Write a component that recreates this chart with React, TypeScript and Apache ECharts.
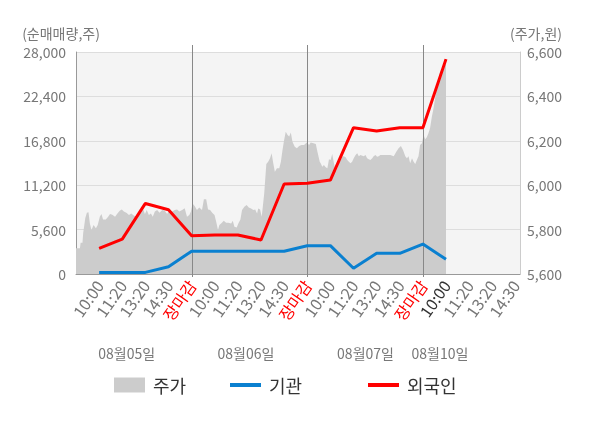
import React, { useEffect, useRef } from 'react';
import * as echarts from 'echarts';

const TIME_LABELS = [
  '', '10:00', '11:20', '13:20', '14:30', '장마감',
  '10:00', '11:20', '13:20', '14:30', '장마감',
  '10:00', '11:20', '13:20', '14:30', '장마감',
  '10:00', '11:20', '13:20', '14:30',
];
const CURRENT_INDEX = 16;
const DAY_END_INDEX = [5, 10, 15];
const DATE_LABELS = ['08월05일', '08월06일', '08월07일', '08월10일'];
const DATE_LABEL_T = [2.19, 7.35, 12.52, 15.74];

const LINE_T = [1, 2, 3, 4, 5, 6, 7, 8, 9, 10, 11, 12, 13, 14, 15, 16];
const INSTITUTION = [200, 200, 200, 920, 2880, 2880, 2880, 2880, 2880, 3570, 3570, 720, 2610, 2610, 3780, 1850];
const FOREIGN = [3240, 4400, 8900, 8100, 4830, 4920, 4920, 4290, 11350, 11440, 11850, 18450, 18030, 18450, 18450, 27100];

const PRICE_T = [
  0.0, 0.17, 0.2, 0.28, 0.31, 0.4, 0.47, 0.54, 0.6, 0.67, 0.76, 0.86, 0.94, 1.03, 1.1, 1.17, 1.29, 1.39, 1.47, 1.57,
  1.69, 1.79, 1.89, 1.98, 2.07, 2.18, 2.29, 2.39, 2.5, 2.61, 2.72, 2.82, 2.91, 2.98, 3.06, 3.15, 3.24, 3.32, 3.41, 3.51,
  3.61, 3.73, 3.84, 3.94, 4.04, 4.16, 4.27, 4.37, 4.47, 4.59, 4.7, 4.8, 4.9, 4.97, 5.04, 5.13, 5.23, 5.33, 5.45, 5.53,
  5.63, 5.71, 5.8, 5.89, 5.99, 6.06, 6.14, 6.2, 6.31, 6.39, 6.49, 6.59, 6.71, 6.78, 6.85, 6.95, 7.02, 7.11, 7.18, 7.28,
  7.38, 7.47, 7.57, 7.67, 7.75, 7.83, 7.88, 7.96, 8.03, 8.07, 8.14, 8.23, 8.31, 8.39, 8.46, 8.53, 8.6, 8.69, 8.79, 8.86,
  8.93, 9.0, 9.07, 9.15, 9.22, 9.29, 9.36, 9.46, 9.55, 9.65, 9.75, 9.86, 9.98, 10.08, 10.15, 10.27, 10.37, 10.44, 10.54, 10.58,
  10.65, 10.72, 10.8, 10.87, 10.94, 11.01, 11.08, 11.15, 11.23, 11.3, 11.37, 11.44, 11.51, 11.58, 11.66, 11.73, 11.8, 11.87, 11.94, 12.01,
  12.09, 12.16, 12.23, 12.3, 12.44, 12.52, 12.59, 12.66, 12.73, 12.81, 12.87, 12.95, 13.02, 13.09, 13.16, 13.3, 13.45, 13.59, 13.74, 13.85,
  13.95, 14.05, 14.14, 14.24, 14.31, 14.38, 14.45, 14.53, 14.6, 14.67, 14.74, 14.81, 14.88, 14.96, 15.03, 15.1, 15.17, 15.24, 15.31, 15.39,
  15.46, 15.53, 15.6, 15.67, 15.74, 15.82, 15.92, 16.0,
];
const PRICE_V = [
  5716, 5716, 5741, 5741, 5783, 5851, 5876, 5878, 5828, 5798, 5821, 5806, 5821, 5858, 5870, 5846, 5846, 5858, 5870, 5867,
  5858, 5873, 5885, 5891, 5881, 5876, 5866, 5873, 5863, 5858, 5873, 5881, 5891, 5870, 5888, 5866, 5873, 5858, 5881, 5888,
  5876, 5888, 5885, 5870, 5888, 5881, 5888, 5891, 5881, 5888, 5896, 5858, 5866, 5881, 5918, 5906, 5888, 5900, 5888, 5937,
  5937, 5891, 5888, 5876, 5866, 5836, 5798, 5821, 5831, 5840, 5831, 5831, 5828, 5840, 5813, 5810, 5828, 5846, 5888, 5903,
  5911, 5900, 5895, 5888, 5891, 5873, 5895, 5891, 5858, 5895, 5964, 6096, 6106, 6121, 6144, 6099, 6061, 6076, 6076, 6106,
  6159, 6204, 6241, 6226, 6219, 6237, 6196, 6173, 6166, 6177, 6181, 6181, 6192, 6181, 6192, 6189, 6186, 6151, 6106, 6099,
  6083, 6091, 6081, 6076, 6117, 6114, 6141, 6101, 6061, 6076, 6099, 6114, 6128, 6130, 6126, 6114, 6106, 6099, 6106, 6121,
  6136, 6144, 6130, 6136, 6130, 6136, 6121, 6117, 6114, 6121, 6130, 6136, 6128, 6130, 6136, 6136, 6136, 6136, 6130, 6151,
  6166, 6177, 6159, 6130, 6121, 6130, 6099, 6121, 6106, 6096, 6114, 6130, 6181, 6189, 6226, 6207, 6216, 6234, 6256, 6309,
  6346, 6392, 6437, 6466, 6511, 6522, 6531, 6550,
];

const FONT = 'Noto Sans CJK KR';

export default function App() {
  const ref = useRef<HTMLDivElement>(null);

  useEffect(() => {
    const chart = echarts.init(ref.current!, null, { renderer: 'svg' });
    const legendBase = {
      top: 376,
      padding: 0,
      itemWidth: 31,
      itemHeight: 15,
      textStyle: { fontFamily: FONT, fontSize: 18, color: '#333', padding: [0, 0, 0, 3] },
      selectedMode: false,
    };
    chart.setOption({
      animation: false,
      textStyle: { fontFamily: FONT },
      grid: {
        left: 76,
        right: 80,
        top: 52,
        bottom: 154,
        show: true,
        backgroundColor: '#f4f4f4',
        borderWidth: 0,
      },
      legend: [
        { ...legendBase, left: 114, data: [{ name: '주가', icon: 'rect' }] },
        { ...legendBase, left: 230, itemHeight: 4, data: [{ name: '기관', icon: 'rect' }] },
        { ...legendBase, left: 368, itemHeight: 4, data: [{ name: '외국인', icon: 'rect' }] },
      ],
      xAxis: {
        type: 'value',
        min: 0,
        max: 19.2,
        interval: 1,
        axisLine: { show: true, lineStyle: { color: '#999' } },
        axisTick: { show: false },
        splitLine: { show: false },
        axisLabel: {
          rotate: 55,
          margin: 8,
          fontSize: 16,
          color: '#777',
          fontFamily: FONT,
          showMaxLabel: false,
          formatter: (v: number) => {
            if (Math.abs(v - Math.round(v)) > 1e-6) return '';
            const i = Math.round(v);
            const t = TIME_LABELS[i] ?? '';
            if (!t) return '';
            if (t === '장마감') return `{red|${t}}`;
            if (i === CURRENT_INDEX) return `{dark|${t}}`;
            return t;
          },
          rich: {
            red: { color: '#ff0000', fontSize: 16, fontFamily: FONT },
            dark: { color: '#333', fontSize: 16, fontFamily: FONT },
          },
        },
      },
      yAxis: [
        {
          type: 'value',
          min: 0,
          max: 28000,
          interval: 5600,
          name: '(순매매량,주)',
          nameLocation: 'end',
          nameGap: 12,
          nameTextStyle: { fontFamily: FONT, fontSize: 14, color: '#777', align: 'center', padding: [0, 30, 0, 0] },
          axisLine: { show: true, lineStyle: { color: '#999' } },
          axisTick: { show: false },
          splitLine: { show: true, lineStyle: { color: '#dddddd' } },
          axisLabel: {
            margin: 10,
            fontSize: 14,
            color: '#777',
            fontFamily: FONT,
            formatter: (v: number) => v.toLocaleString('en-US'),
          },
        },
        {
          type: 'value',
          min: 5600,
          max: 6600,
          interval: 200,
          position: 'right',
          name: '(주가,원)',
          nameLocation: 'end',
          nameGap: 12,
          nameTextStyle: { fontFamily: FONT, fontSize: 14, color: '#777', align: 'center', padding: [0, 0, 0, 32] },
          axisLine: { show: true, lineStyle: { color: '#cccccc' } },
          axisTick: { show: false },
          splitLine: { show: false },
          axisLabel: {
            margin: 7,
            fontSize: 14,
            color: '#777',
            fontFamily: FONT,
            formatter: (v: number) => v.toLocaleString('en-US'),
          },
        },
      ],
      series: [
        {
          name: '주가',
          type: 'line',
          yAxisIndex: 1,
          data: PRICE_T.map((t, i) => [t, PRICE_V[i]]),
          symbol: 'none',
          lineStyle: { width: 0, color: '#cccccc' },
          itemStyle: { color: '#cccccc' },
          areaStyle: { color: '#cccccc', opacity: 1 },
          z: 1,
        },
        {
          name: '기관',
          type: 'line',
          yAxisIndex: 0,
          data: LINE_T.map((t, i) => [t, INSTITUTION[i]]),
          symbol: 'none',
          lineStyle: { width: 3, color: '#0a80d0' },
          itemStyle: { color: '#0a80d0' },
          z: 3,
        },
        {
          name: '외국인',
          type: 'line',
          yAxisIndex: 0,
          data: LINE_T.map((t, i) => [t, FOREIGN[i]]),
          symbol: 'none',
          lineStyle: { width: 3, color: '#ff0000' },
          itemStyle: { color: '#ff0000' },
          z: 4,
        },
      ],
    });

    const yTop = chart.convertToPixel({ yAxisIndex: 0 }, 28000) as number;
    const yBottom = chart.convertToPixel({ yAxisIndex: 0 }, 0) as number;
    const sepLines = DAY_END_INDEX.map((i) => {
      const x = Math.round(chart.convertToPixel({ xAxisIndex: 0 }, i) as number) + 0.5;
      return {
        type: 'line',
        z: 2,
        shape: { x1: x, y1: yTop - 7, x2: x, y2: yBottom + 3 },
        style: { stroke: '#888', lineWidth: 1 },
      };
    });
    const dateTexts = DATE_LABELS.map((label, i) => ({
      type: 'text',
      x: chart.convertToPixel({ xAxisIndex: 0 }, DATE_LABEL_T[i]) as number,
      y: 353,
      style: {
        text: label,
        fontFamily: FONT,
        fontSize: 14,
        fill: '#777',
        textAlign: 'center',
        textVerticalAlign: 'middle',
      },
    }));
    chart.setOption({ graphic: [...sepLines, ...dateTexts] });

    return () => chart.dispose();
  }, []);

  return <div ref={ref} style={{ position: 'fixed', left: 0, top: 0, width: 600, height: 428 }} />;
}
